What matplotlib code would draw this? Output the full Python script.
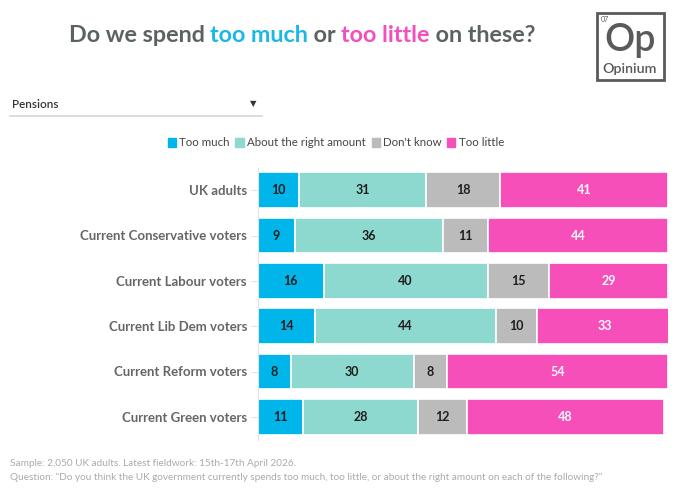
import numpy as np
import matplotlib.pyplot as plt
from matplotlib.patches import Rectangle

plt.rcParams['font.family'] = ['Lato', 'DejaVu Sans']

groups = ["UK adults", "Current Conservative voters", "Current Labour voters",
          "Current Lib Dem voters", "Current Reform voters", "Current Green voters"]
series = ["Too much", "About the right amount", "Don't know", "Too little"]
too_much = [10, 9, 16, 14, 8, 11]
right_amount = [31, 36, 40, 44, 30, 28]
dont_know = [18, 11, 15, 10, 8, 12]
too_little = [41, 44, 29, 33, 54, 48]

colors = ["#00b5e9", "#8dd8cf", "#bbbbbb", "#f74fba"]
text_colors = ["#1e1e1e", "#1e1e1e", "#1e1e1e", "#ffffff"]
grey = "#5b6360"

W, H = 680, 492
fig = plt.figure(figsize=(W / 100, H / 100), dpi=100)

# main axes in pixel terms
x0, x1 = 258, 668
y_top, y_bot = 167.5, 439.5
ax = fig.add_axes([x0 / W, 1 - y_bot / H, (x1 - x0) / W, (y_bot - y_top) / H])

y = np.arange(len(groups))
left = np.zeros(len(groups))
for vals, c, tc in zip([too_much, right_amount, dont_know, too_little], colors, text_colors):
    vals = np.array(vals)
    ax.barh(y, vals, left=left, height=0.79, color=c, edgecolor="white", linewidth=1.2)
    for yi, (l, v) in enumerate(zip(left, vals)):
        ax.text(l + v / 2, yi, str(v), ha="center", va="center", fontsize=9,
                fontweight="bold", color=tc)
    left += vals

ax.set_xlim(0, 100)
ax.set_ylim(len(groups) - 0.5, -0.5)
ax.set_yticks(y)
ax.set_yticklabels(groups, fontsize=9.5, fontweight="bold", color="#666666")
ax.set_xticks([])
for s in ["top", "right", "bottom"]:
    ax.spines[s].set_visible(False)
ax.spines["left"].set_color("#e3e3e3")
ax.tick_params(axis="y", length=5, color="#e3e3e3", pad=3)
ax.set_facecolor("none")

# title with coloured words
parts = [("Do we spend ", grey), ("too much", "#1bb8e6"), (" or ", grey),
         ("too little", "#f24fbf"), (" on these?", grey)]
texts = []
for txt, c in parts:
    texts.append(fig.text(0, 1 - 36 / H, txt, fontsize=16.8, fontweight="bold", color=c,
                          va="center", ha="left"))
fig.canvas.draw()
r = fig.canvas.get_renderer()
widths = [tt.get_window_extent(renderer=r).width for tt in texts]
xcur = 302 - sum(widths) / 2
for tt, w in zip(texts, widths):
    tt.set_position((xcur / W, 1 - 36 / H))
    xcur += w

# logo
fig.patches.append(Rectangle((597 / W, 1 - 80 / H), 67 / W, 67 / H, transform=fig.transFigure,
                             fill=False, edgecolor="#5a5a5a", linewidth=2))
fig.text(601 / W, 1 - 19 / H, "07", fontsize=5, color="#5a5a5a", ha="left", va="center")
fig.text(630 / W, 1 - 40 / H, "Op", fontsize=27, fontweight="semibold", color="#5a5a5a",
         ha="center", va="center")
fig.text(630 / W, 1 - 69 / H, "Opinium", fontsize=10.3, fontweight="semibold", color="#5a5a5a",
         ha="center", va="center")

# dropdown
fig.text(12 / W, 1 - 105 / H, "Pensions", fontsize=8.5, fontweight="semibold", color="#333333",
         ha="left", va="center")
fig.text(253 / W, 1 - 104 / H, "\u25bc", fontsize=6, color="#333333", ha="center", va="center",
         family=["DejaVu Sans"])
fig.add_artist(plt.Line2D([10 / W, 262 / W], [1 - 116 / H, 1 - 116 / H], color="#d5d5d5",
                          linewidth=1.2, transform=fig.transFigure))

# legend
handles = [Rectangle((0, 0), 1, 1, color=c) for c in colors]
fig.legend(handles, series, loc="center", bbox_to_anchor=(336 / W, 1 - 143 / H), ncol=4,
           frameon=False, fontsize=8.3, handlelength=0.7, handleheight=0.7,
           handletextpad=0.3, columnspacing=0.5, labelcolor="#444444")

# footnote
fig.text(10 / W, 1 - 463 / H, "Sample: 2,050 UK adults. Latest fieldwork: 15th-17th April 2026.",
         fontsize=7.2, color="#aaaaaa", ha="left", va="center")
fig.text(10 / W, 1 - 478 / H,
         "Question: \"Do you think the UK government currently spends too much, too little, "
         "or about the right amount on each of the following?\"",
         fontsize=7.2, color="#aaaaaa", ha="left", va="center")

fig.savefig("out.png", dpi=100)
